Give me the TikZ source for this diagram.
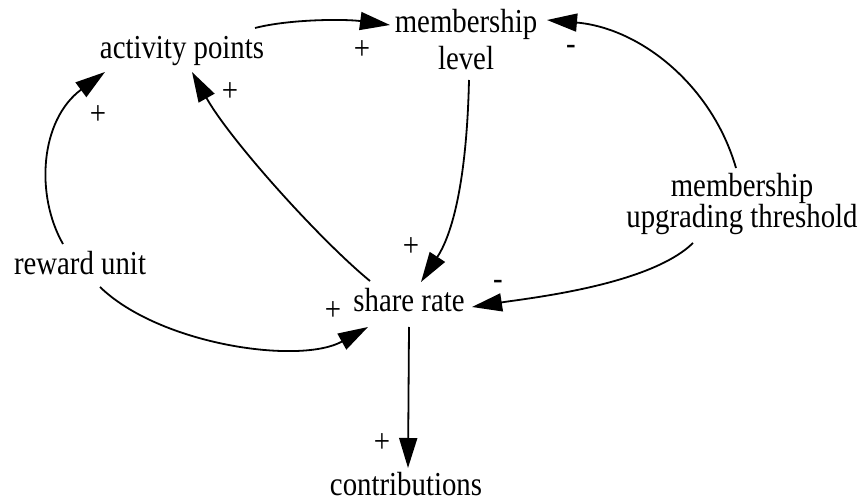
\documentclass[tikz,border=0pt]{standalone}
\usepackage{fontspec}
\setmainfont{Liberation Serif}[FakeStretch=0.86]
\usetikzlibrary{arrows.meta,calc}
\begin{document}
\begin{tikzpicture}[x=1pt,y=-1pt,
  var/.style={anchor=base,inner sep=0pt,font=\fontsize{33.5}{36}\selectfont,align=center},
  pol/.style={anchor=center,inner sep=0pt,font=\fontsize{33.5}{36}\selectfont},
  link/.style={line width=1.8pt,-{Triangle[length=30pt,width=18pt]}}]
\useasboundingbox (0,0) rectangle (864,502);
\node[var] (ap) at (182,59) {activity points};
\node[var] (ml) at (466,70) {membership\\[1pt]level};
\node[var] (thr) at (742,228) {membership\\[-5pt]upgrading threshold};
\node[var] (ru) at (80,275) {reward unit};
\node[var] (sr) at (409,312) {share rate};
\node[var] (ct) at (406,495) {contributions};
% connectors
\draw[link] ($(ap.base)+(73,-31)$) .. controls (290,19) and (345,19) .. ($(ml.base)+(-76,-45)$);
\draw[link] ($(thr.base)+(-6,-60)$) .. controls (712,85) and (640,28) .. ($(ml.base)+(81,-50)$);
\draw[link] ($(ml.base)+(3,10)$) .. controls (467,170) and (455,230) .. ($(sr.base)+(12,-30)$);
\draw[link] ($(sr.base)+(-39,-31)$) .. controls (320,240) and (230,140) .. ($(ap.base)+(10,13)$);
\draw[link] ($(ru.base)+(-17,-31)$) .. controls (35,195) and (40,120) .. ($(ap.base)+(-77,13)$);
\draw[link] ($(ru.base)+(20,12)$) .. controls (160,345) and (300,365) .. ($(sr.base)+(-41,15)$);
\draw[link] ($(thr.base)+(-49,15)$) .. controls (650,285) and (530,298) .. ($(sr.base)+(63,-5)$);
\draw[link] ($(sr.base)+(0,15)$) -- ($(ct.base)+(2,-27)$);
% polarities
\node[pol] (p1) at (362,50) {+};
\node[pol] (p2) at (571,50) {-};
\node[pol] (p3) at (411,247) {+};
\node[pol] (p4) at (230,92) {+};
\node[pol] (p5) at (98,115) {+};
\node[pol] (p6) at (333,311) {+};
\node[pol] (p7) at (498,285) {-};
\node[pol] (p8) at (382,443) {+};
\end{tikzpicture}
\end{document}
